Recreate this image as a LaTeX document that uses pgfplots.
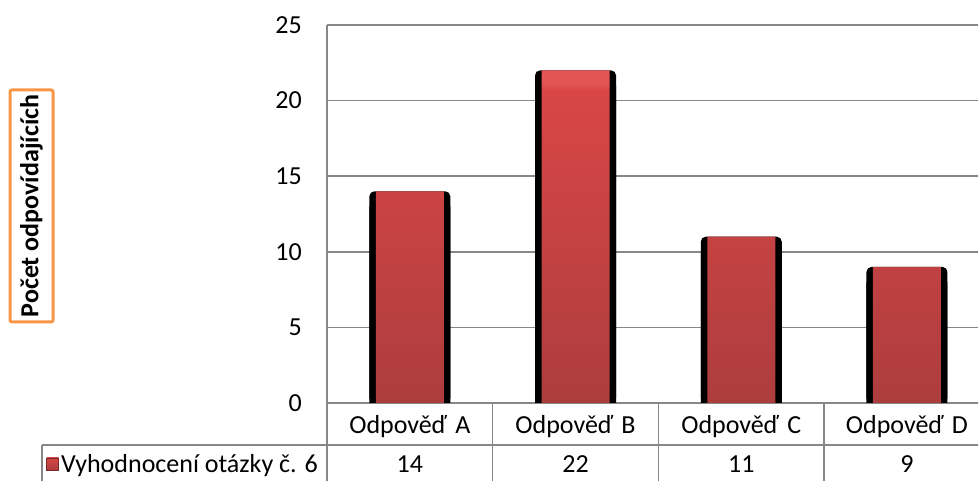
\documentclass[border=0pt]{standalone}
\usepackage{fontspec}
\setmainfont{Carlito}
\usepackage{pgfplots}
\usepackage{pgfplotstable}
\pgfplotsset{compat=1.18}

\definecolor{gridgray}{HTML}{878787}
\definecolor{barhi}{HTML}{D94646}
\definecolor{barlo}{HTML}{AD3D3D}
\definecolor{bartop}{HTML}{E25555}
\definecolor{boxorange}{HTML}{F79646}

% bar body: darker at the base, light bevel along the top edge
\pgfdeclareverticalshading{barbody}{100bp}{%
  color(0bp)=(barlo); color(25bp)=(barlo); color(72bp)=(barhi);
  color(73bp)=(bartop); color(100bp)=(bartop)}

% Vyhodnocení otázky č. 6
\pgfplotstableread{
x v
0 14
1 22
2 11
3 9
}\answers

\begin{document}
\begin{tikzpicture}[x=1pt,y=1pt,font=\fontsize{26}{31}\selectfont]
\useasboundingbox (0,0) rectangle (978,481);
\clip (0,0) rectangle (978,481);
\begin{axis}[
  at={(327pt,78pt)}, anchor=south west,
  width=662.8pt, height=378pt, scale only axis,
  xmin=-0.5, xmax=3.5, ymin=0, ymax=25,
  ytick={0,5,...,25},
  xtick={0,1,2,3},
  xticklabels={Odpověď A,Odpověď B,Odpověď C,Odpověď D},
  major tick length=0pt,
  axis lines*=left,
  axis line style={gridgray, line width=1.5pt},
  ymajorgrids, grid style={gridgray, line width=1.5pt},
  every tick label/.append style={font=\fontsize{26}{31}\selectfont},
  yticklabel style={anchor=east, inner sep=0pt, xshift=-25pt},
  xticklabel style={anchor=base, inner sep=0pt, yshift=-31pt,
    text width=160pt, align=center},
  /pgf/number format/assume math mode=true,
  clip=false,
]
% dark shadow behind each bar
\addplot[ybar, bar width=81pt, bar shift=0pt, fill=black, draw=none, rounded corners=5pt]
  table[x=x, y=v]{\answers};
\addplot[ybar, bar width=81pt, bar shift=0pt, fill=black, draw=none]
  table[x=x, y expr=\thisrow{v}-1]{\answers};
% red bar body
\addplot[ybar, bar width=68pt, bar shift=0pt, draw=none, shading=barbody]
  table[x=x, y=v]{\answers};
% values in the data table row
\addplot[draw=none, mark=none, nodes near coords, point meta=explicit,
  every node near coord/.style={anchor=base, inner sep=0pt, yshift=-70pt,
    text width=160pt, align=center, font=\fontsize{26}{31}\selectfont}]
  table[x=x, y expr=0, meta=v]{\answers};
\end{axis}

% data table grid
\begin{scope}[gridgray, line width=1.5pt]
  \draw (327,78) -- (327,0);
  \foreach \xx in {492.7,658.4,824.1} \draw (\xx,78) -- (\xx,0);
\end{scope}
\node[anchor=base east, inner sep=0pt] (lbl) at (318,8) {Vyhodnocení otázky č. 6};
\node[anchor=east, minimum size=12pt, inner sep=0pt, draw=barlo!70!black, line width=0.6pt,
  top color=barhi, bottom color=barlo] (key) at ([xshift=-2pt,yshift=9pt]lbl.base west) {};
\draw[gridgray, line width=1.5pt] ([xshift=-4pt]key.west |- 0,36) -- (978,36);
\draw[gridgray, line width=1.5pt] ([xshift=-4pt]key.west |- 0,36) -- ([xshift=-4pt]key.west |- 0,0);

% axis title
\node[draw=boxorange, line width=3pt, rounded corners=2pt, rotate=90,
  minimum width=232pt, minimum height=43pt, inner sep=0pt,
  font=\bfseries\fontsize{26}{31}\selectfont] at (31.5,275) {Počet odpovídajících};
\end{tikzpicture}
\end{document}
